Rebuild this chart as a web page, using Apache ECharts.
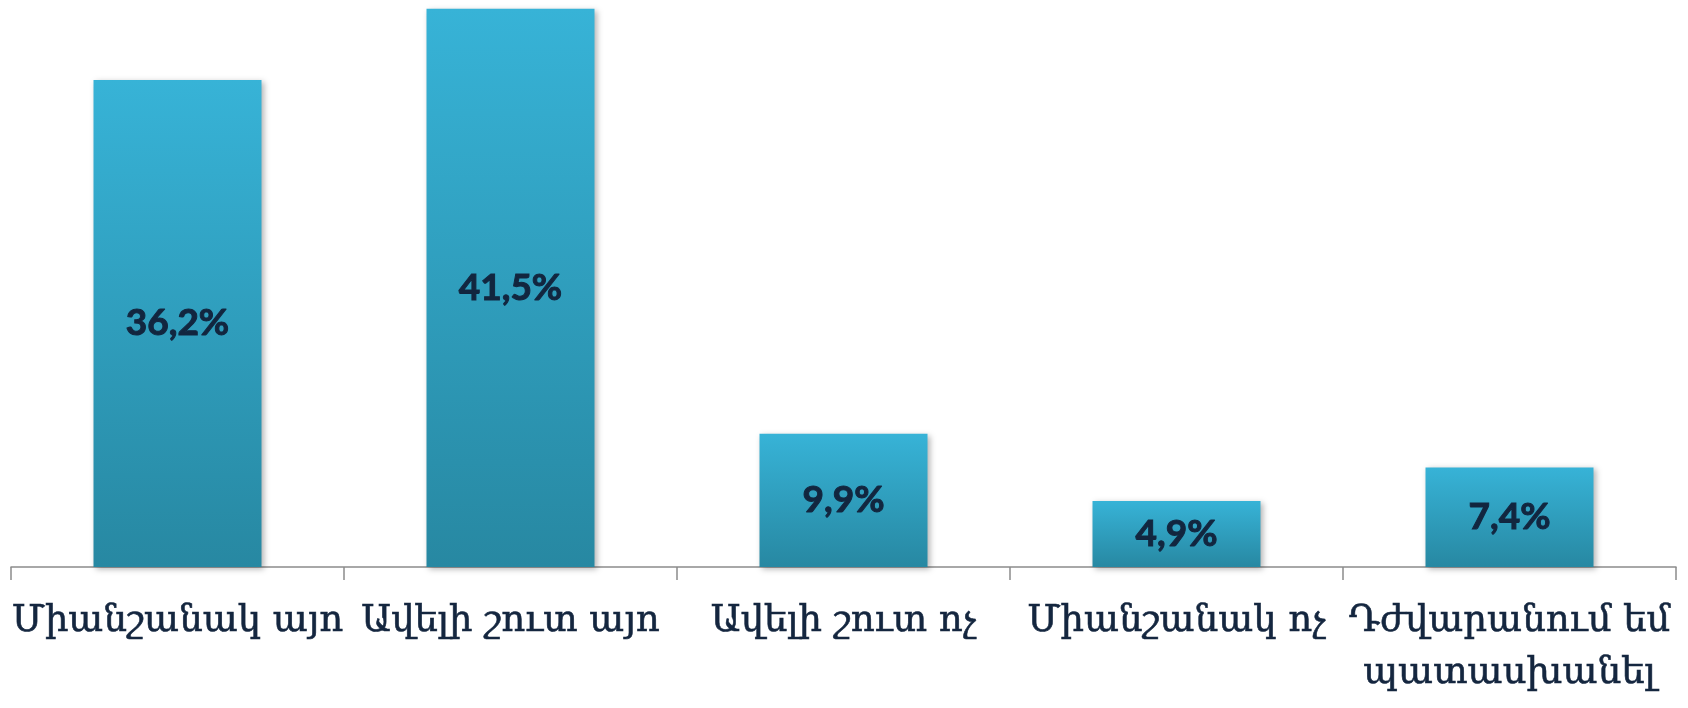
<!DOCTYPE html>
<html>
<head>
<meta charset="utf-8">
<script src="https://cdn.jsdelivr.net/npm/echarts@6/dist/echarts.min.js"></script>
<style>
  html, body { margin: 0; padding: 0; background: #fff; }
  #chart { width: 1688px; height: 708px; }
</style>
</head>
<body>
<div id="chart"></div>
<script>
// categories and percent values
var categories = ['Միանշանակ այո', 'Ավելի շուտ այո', 'Ավելի շուտ ոչ', 'Միանշանակ ոչ', 'Դժվարանում եմ\nպատասխանել'];
var values = [36.2, 41.5, 9.9, 4.9, 7.4];

(function () {
    var myChart = echarts.init(document.getElementById('chart'));

    var option = {
        animation: false,
        grid: {
            left: 11,
            right: 12,
            top: 2,
            bottom: 141
        },
        xAxis: {
            type: 'category',
            data: categories,
            axisLine: {
                show: true,
                lineStyle: { color: '#8c8c8c', width: 1.5 }
            },
            axisTick: {
                show: true,
                length: 13,
                lineStyle: { color: '#8c8c8c', width: 1.5 }
            },
            axisLabel: {
                interval: 0,
                margin: 28,
                color: '#14263f',
                fontFamily: '"DejaVu Serif", "Noto Sans", serif',
                fontSize: 37,
                lineHeight: 52,
                textBorderColor: '#14263f',
                textBorderWidth: 0.6
            }
        },
        yAxis: {
            type: 'value',
            min: 0,
            max: 42,
            show: false,
            splitLine: { show: false }
        },
        series: [
            {
                type: 'bar',
                data: values,
                barWidth: 168,
                itemStyle: {
                    color: new echarts.graphic.LinearGradient(0, 0, 0, 1, [
                        { offset: 0, color: '#37b3d7' },
                        { offset: 1, color: '#2788a2' }
                    ]),
                    shadowColor: 'rgba(0,0,0,0.3)',
                    shadowBlur: 6,
                    shadowOffsetX: 2,
                    shadowOffsetY: 2
                },
                label: {
                    show: true,
                    position: 'inside',
                    formatter: function (p) {
                        return p.value.toFixed(1).replace('.', ',') + '%';
                    },
                    color: '#12263f',
                    fontFamily: 'Lato, "Open Sans", sans-serif',
                    fontWeight: 'bold',
                    fontSize: 37,
                    textBorderColor: '#12263f',
                    textBorderWidth: 1
                }
            }
        ]
    };

    myChart.setOption(option);
})();
</script>
</body>
</html>
